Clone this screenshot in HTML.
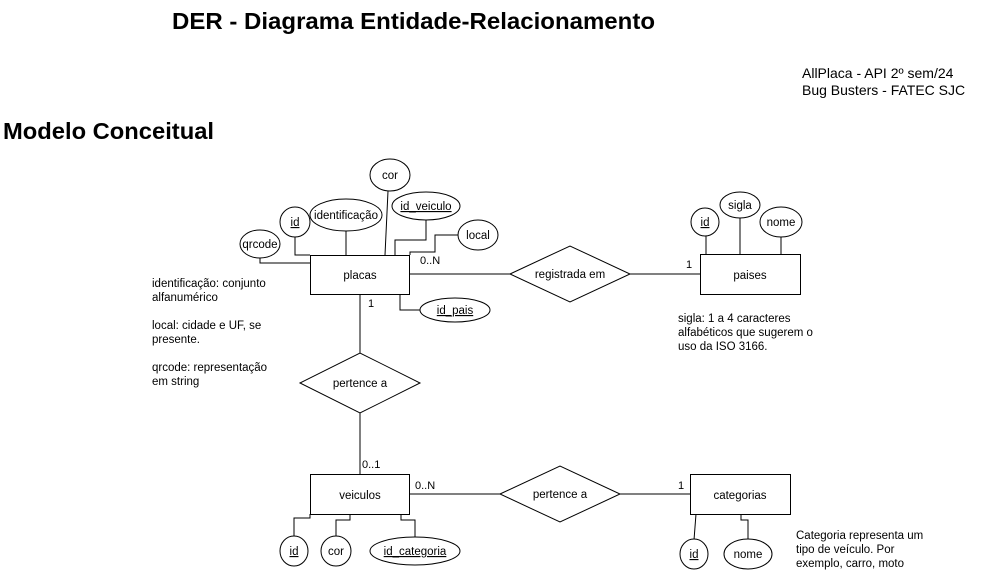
<!DOCTYPE html>
<html><head><meta charset="utf-8"><style>
html,body{margin:0;padding:0;background:#fff;}
svg{display:block;font-family:"Liberation Sans",Arial,sans-serif;}
</style></head><body>
<svg width="986" height="574" viewBox="0 0 986 574" xmlns="http://www.w3.org/2000/svg">
<rect width="986" height="574" fill="#fff"/>
<g fill="#000">
<text x="172" y="29" font-size="23" font-weight="bold" textLength="483" lengthAdjust="spacingAndGlyphs">DER - Diagrama Entidade-Relacionamento</text>
<text x="3" y="139" font-size="23" font-weight="bold" textLength="211" lengthAdjust="spacingAndGlyphs">Modelo Conceitual</text>
<text x="802" y="78" font-size="14">AllPlaca - API 2º sem/24</text>
<text x="802" y="95" font-size="14">Bug Busters - FATEC SJC</text>
<g font-size="11.5">
<text x="152" y="287">identificação: conjunto</text>
<text x="152" y="301">alfanumérico</text>
<text x="152" y="329">local: cidade e UF, se</text>
<text x="152" y="343">presente.</text>
<text x="152" y="371">qrcode: representação</text>
<text x="152" y="385">em string</text>
<text x="678" y="322">sigla: 1 a 4 caracteres</text>
<text x="678" y="336">alfabéticos que sugerem o</text>
<text x="678" y="350">uso da ISO 3166.</text>
<text x="796" y="539">Categoria representa um</text>
<text x="796" y="553">tipo de veículo. Por</text>
<text x="796" y="567">exemplo, carro, moto</text>
</g>
</g>
<g stroke="#000" stroke-width="1" fill="none">
<!-- placas connectors -->
<polyline points="260,258 260,263 310,263"/>
<polyline points="295,237 295,255 310,255"/>
<line x1="346" y1="231" x2="346" y2="255"/>
<line x1="388" y1="191" x2="385" y2="255"/>
<polyline points="426,220 426,240 395,240 395,255"/>
<polyline points="458,235 435,235 435,252 410,252 410,255"/>
<polyline points="400,294 400,310 420,310"/>
<line x1="410" y1="274" x2="510" y2="274"/>
<line x1="630" y1="274" x2="700" y2="274"/>
<line x1="360" y1="294" x2="360" y2="353"/>
<line x1="360" y1="413" x2="360" y2="474"/>
<line x1="410" y1="494" x2="500" y2="494"/>
<line x1="620" y1="494" x2="690" y2="494"/>
<!-- paises -->
<line x1="706" y1="236" x2="706" y2="254"/>
<line x1="740" y1="218" x2="740" y2="254"/>
<line x1="781" y1="237" x2="781" y2="254"/>
<!-- veiculos -->
<polyline points="294,537 294,518 310,518 310,514"/>
<polyline points="336,537 336,520 350,520 350,514"/>
<polyline points="415,537 415,520 401,520 401,514"/>
<!-- categorias -->
<line x1="696" y1="514" x2="694" y2="540"/>
<polyline points="741,514 741,520 748,520 748,540"/>
</g>
<g stroke="#000" stroke-width="1" fill="#fff">
<rect x="310.5" y="255.5" width="99" height="39"/>
<rect x="700.5" y="254.5" width="100" height="40"/>
<rect x="310.5" y="474.5" width="99" height="40"/>
<rect x="690.5" y="474.5" width="100" height="40"/>
<polygon points="510,274 570,246 630,274 570,302"/>
<polygon points="300,383 360,353 420,383 360,413"/>
<polygon points="500,494 560,466 620,494 560,522"/>
<ellipse cx="260" cy="244" rx="20" ry="14"/>
<ellipse cx="295" cy="222" rx="15" ry="15"/>
<ellipse cx="346" cy="215" rx="36" ry="16"/>
<ellipse cx="390" cy="175" rx="20" ry="16"/>
<ellipse cx="426" cy="206" rx="34" ry="14"/>
<ellipse cx="478" cy="235" rx="20" ry="15"/>
<ellipse cx="455" cy="310" rx="35" ry="12"/>
<ellipse cx="705" cy="222" rx="14" ry="14"/>
<ellipse cx="740" cy="205" rx="20" ry="13"/>
<ellipse cx="781" cy="222" rx="21" ry="15"/>
<ellipse cx="294" cy="551" rx="14" ry="15"/>
<ellipse cx="336" cy="551" rx="15" ry="15"/>
<ellipse cx="415" cy="551" rx="45" ry="14"/>
<ellipse cx="694" cy="554" rx="14" ry="15"/>
<ellipse cx="748" cy="554" rx="24" ry="15"/>
</g>
<g fill="#000" font-size="11.5" text-anchor="middle">
<text x="360" y="279">placas</text>
<text x="750" y="279">paises</text>
<text x="360" y="499">veiculos</text>
<text x="740" y="499">categorias</text>
<text x="570" y="278">registrada em</text>
<text x="360" y="387">pertence a</text>
<text x="560" y="498">pertence a</text>
<text x="260" y="248">qrcode</text>
<text x="295" y="226" text-decoration="underline">id</text>
<text x="346" y="219">identificação</text>
<text x="390" y="179">cor</text>
<text x="426" y="210" text-decoration="underline">id_veiculo</text>
<text x="478" y="239">local</text>
<text x="455" y="314" text-decoration="underline">id_pais</text>
<text x="705" y="226" text-decoration="underline">id</text>
<text x="740" y="209">sigla</text>
<text x="781" y="226">nome</text>
<text x="294" y="555" text-decoration="underline">id</text>
<text x="336" y="555">cor</text>
<text x="415" y="555" text-decoration="underline">id_categoria</text>
<text x="694" y="558" text-decoration="underline">id</text>
<text x="748" y="558">nome</text>
</g>
<g fill="#000" font-size="11">
<text x="420" y="264">0..N</text>
<text x="686" y="268">1</text>
<text x="368" y="307">1</text>
<text x="362" y="468">0..1</text>
<text x="415" y="489">0..N</text>
<text x="678" y="489">1</text>
</g>
</svg>
</body></html>
